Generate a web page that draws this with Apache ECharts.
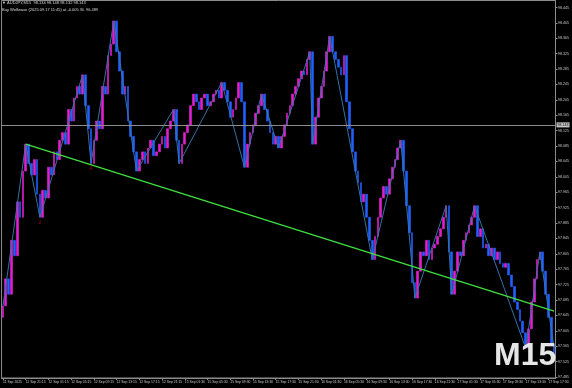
<!DOCTYPE html>
<html><head><meta charset="utf-8">
<script src="https://cdn.jsdelivr.net/npm/echarts@6/dist/echarts.min.js"></script>
<style>html,body{margin:0;padding:0;background:#000}#c{width:572px;height:388px}</style>
</head><body><div id="c"></div>
<script>
// 30-minute closes (AUDJPY)
const closes = [97.67,97.74,97.70,97.84,97.80,97.94,97.90,98.02,98.09,98.04,
 98.01,98.05,97.96,97.90,97.97,97.95,98.03,98.01,98.07,98.05,
 98.10,98.12,98.09,98.18,98.15,98.21,98.24,98.22,98.27,98.19,
 98.13,98.04,98.10,98.15,98.13,98.24,98.22,98.32,98.35,98.41,
 98.33,98.28,98.22,98.24,98.15,98.11,98.07,98.02,98.05,98.07,
 98.04,98.08,98.10,98.06,98.07,98.09,98.11,98.08,98.13,98.15,
 98.18,98.10,98.04,98.09,98.12,98.14,98.19,98.22,98.20,98.18,
 98.21,98.22,98.19,98.20,98.22,98.23,98.21,98.25,98.23,98.20,
 98.16,98.18,98.21,98.25,98.20,98.03,98.09,98.12,98.14,98.17,
 98.19,98.22,98.18,98.15,98.12,98.09,98.11,98.08,98.11,98.14,
 98.17,98.19,98.22,98.24,98.26,98.28,98.27,98.31,98.33,98.09,
 98.16,98.21,98.24,98.28,98.33,98.37,98.33,98.31,98.29,98.27,
 98.32,98.20,98.13,98.07,98.02,97.99,97.94,97.96,97.90,97.84,
 97.79,97.85,97.90,97.95,97.98,97.96,98.00,98.03,98.05,98.08,
 98.10,98.02,97.93,97.86,97.73,97.69,97.76,97.81,97.80,97.84,
 97.79,97.82,97.83,97.85,97.87,97.90,97.93,97.81,97.70,97.76,
 97.81,97.80,97.84,97.86,97.88,97.90,97.93,97.85,97.87,97.82,
 97.83,97.80,97.82,97.79,97.81,97.78,97.77,97.78,97.75,97.72,
 97.68,97.66,97.63,97.60,97.56,97.61,97.68,97.74,97.79,97.81,
 97.76,97.70,97.64,97.57,97.53];
const firstOpen = 97.64;

const timeLabels = ['11 Sep 2025','11 Sep 21:15','12 Sep 01:15','12 Sep 05:15','12 Sep 09:15','12 Sep 13:15','12 Sep 17:15','12 Sep 21:15','15 Sep 01:30','15 Sep 05:30','15 Sep 09:30','15 Sep 13:30','15 Sep 17:30','15 Sep 21:30','16 Sep 01:30','16 Sep 05:30','16 Sep 09:30','16 Sep 13:30','16 Sep 17:30','16 Sep 21:30','17 Sep 01:30','17 Sep 05:30','17 Sep 09:30','17 Sep 13:30','17 Sep 17:30'];
const labelEvery = 8;

const priceTicks = [98.445,98.405,98.365,98.325,98.285,98.245,98.205,98.165,98.125,98.085,98.045,98.005,97.965,97.925,97.885,97.845,97.805,97.765,97.725,97.685,97.645,97.605,97.565,97.525,97.485];
const priceMin = 97.4824, priceMax = 98.4632;
const bidPrice = 98.143;

const zigzag = [[0,97.67],[8,98.09],[13,97.90],[28,98.27],[31,98.04],[39,98.41],[47,98.02],[60,98.18],[62,98.04],[77,98.25],[85,98.03],[91,98.22],[97,98.08],[108,98.33],[109,98.09],[115,98.37],[130,97.79],[140,98.10],[145,97.69],[156,97.93],[158,97.70],[166,97.93],[184,97.56],[189,97.81],[194,97.56]];
const trend = [[8,98.09],[194,97.656]];
const waveLabels = [[13,97.90,'2'],[31,98.04,'4']];

const header1 = '\u25BC AUDJPY,M15  98.134 98.148 98.132 98.143';
const header2 = 'Buy Wolfwave (2025.09.17 11:45) at -0.005 SL 96.489';
const tfText = 'M15';

const cats = closes.map((c, i) => String(i));
const ohlc = closes.map((c, i) => {
  const o = i ? closes[i - 1] : firstOpen;
  return [o, c, Math.min(o, c), Math.max(o, c)];
});

const chart = echarts.init(document.getElementById('c'), null, {renderer: 'canvas'});
const gray = '#8c8c8c';
chart.setOption({
  animation: false,
  backgroundColor: '#000',
  textStyle: {fontFamily: 'Liberation Sans, Arial, sans-serif'},
  grid: {left: 0.5, right: 14.5, top: 0.5, bottom: 10, show: true, borderColor: gray, borderWidth: 1, backgroundColor: 'transparent'},
  xAxis: {
    type: 'category', data: cats, boundaryGap: true,
    axisLine: {show: true, lineStyle: {color: gray}},
    axisTick: {show: true, alignWithLabel: true, interval: (i) => i % labelEvery === 0, length: 2, lineStyle: {color: gray}},
    axisLabel: {show: true, interval: (i) => i % labelEvery === 0, formatter: (v, i) => timeLabels[i / labelEvery] || '',
      color: '#c8c8c8', fontSize: 3.4, align: 'left', margin: 2.5},
    splitLine: {show: false}
  },
  yAxis: {
    type: 'value', position: 'right', min: priceMin, max: priceMax, scale: true,
    splitLine: {show: false},
    axisLine: {show: true, lineStyle: {color: gray}},
    axisTick: {show: true, customValues: priceTicks, length: 2, lineStyle: {color: gray}},
    axisLabel: {show: true, customValues: priceTicks, formatter: (v) => v.toFixed(3), color: '#c8c8c8', fontSize: 3.6, margin: 2.5}
  },
  series: [
    {
      type: 'candlestick', data: ohlc, barWidth: 2.2,
      itemStyle: {color: '#e020d0', color0: '#2060ff', borderColor: '#e020d0', borderColor0: '#2060ff', borderWidth: 0.6},
      markLine: {
        silent: true, symbol: 'none',
        lineStyle: {color: gray, type: 'solid', width: 1},
        label: {show: true, position: 'end', formatter: bidPrice.toFixed(3), color: '#000', backgroundColor: '#c8c8c8', fontSize: 3.6, padding: [1, 1, 0, 1], distance: 1},
        data: [{yAxis: bidPrice}]
      },
      z: 2
    },
    {type: 'line', data: zigzag, symbol: 'none', lineStyle: {color: '#3572a6', width: 1}, z: 3},
    {type: 'line', data: trend, symbol: 'none', lineStyle: {color: '#3fe03f', width: 1.3}, z: 4},
    {type: 'scatter', data: waveLabels.map(d => ({value: [d[0], d[1]], name: d[2]})), symbolSize: 0,
      label: {show: true, position: 'bottom', distance: 3, formatter: (p) => p.name, color: '#c00000', fontSize: 5}, z: 5}
  ],
  graphic: [
    {type: 'text', left: 2, top: 1, style: {text: header1, fill: '#d8d8d8', font: '4px Liberation Sans, Arial, sans-serif'}},
    {type: 'text', left: 2, top: 8, style: {text: header2, fill: '#d8d8d8', font: '4px Liberation Sans, Arial, sans-serif'}},
    {type: 'text', left: 494, top: 340, z: 100, style: {text: tfText, fill: '#e6e6e6', font: 'bold 32px Liberation Sans, Arial, sans-serif'}}
  ]
});
</script></body></html>
